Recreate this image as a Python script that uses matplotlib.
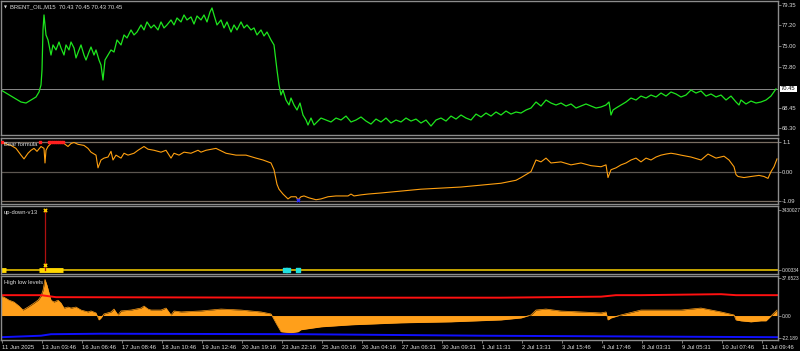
import matplotlib
matplotlib.use("Agg")
import matplotlib.pyplot as plt
from matplotlib.transforms import blended_transform_factory

plt.rcParams['font.family'] = ['Liberation Sans', 'DejaVu Sans']

W, H = 800, 351

# --- main price series (BRENT_OIL, M15) ---
price_x = [0, 5, 10, 15, 20, 25, 30, 35, 38, 40, 41, 42, 43, 44, 45, 47, 50, 52, 55, 58,
           60, 63, 65, 68, 70, 73, 75, 78, 80, 83, 85, 88, 90, 93, 95, 98, 100, 102, 104, 107,
           110, 113, 116, 120, 123, 126, 130, 133, 136, 140, 143, 146, 150, 153, 157, 160, 163, 166, 170, 173,
           176, 180, 183, 186, 190, 193, 196, 200, 203, 206, 209, 211, 213, 216, 220, 223, 226, 230, 233, 236,
           240, 243, 246, 250, 253, 256, 260, 263, 266, 270, 273, 276, 278, 280, 282, 285, 288, 290, 293, 296,
           299, 302, 305, 307, 310, 313, 316, 320, 325, 330, 335, 340, 345, 350, 355, 360, 365, 370, 375, 380,
           385, 390, 395, 400, 405, 410, 415, 420, 425, 430, 435, 440, 445, 450, 455, 460, 465, 470, 475, 480,
           485, 490, 495, 500, 505, 510, 515, 520, 525, 530, 535, 540, 545, 550, 555, 560, 565, 570, 575, 580,
           585, 590, 595, 600, 605, 608, 610, 612, 615, 620, 625, 630, 635, 640, 645, 650, 655, 660, 665, 670,
           675, 680, 685, 690, 695, 700, 705, 710, 715, 720, 725, 730, 735, 738, 740, 745, 750, 755, 760, 765,
           770, 775]
price = [70.33, 70.01, 69.69, 69.38, 69.06, 68.95, 69.27, 69.59, 70.12, 70.86, 72.45, 76.70, 78.29, 77.23, 76.17, 75.64, 74.04, 75.11, 74.58, 75.42,
         74.79, 74.04, 75.11, 74.58, 75.42, 74.79, 73.73, 74.58, 75.11, 74.04, 73.51, 74.36, 74.89, 74.04, 74.58, 73.51, 72.98, 71.39, 73.51, 74.04,
         74.58, 74.36, 75.64, 75.11, 76.17, 75.85, 76.70, 76.17, 76.48, 77.23, 76.70, 77.55, 76.91, 77.23, 76.70, 77.55, 76.91, 77.23, 77.76, 77.23,
         77.97, 77.55, 78.29, 77.76, 78.08, 77.33, 78.18, 77.76, 78.29, 77.55, 78.61, 79.03, 78.29, 77.23, 77.76, 76.91, 77.55, 76.48, 77.23, 76.70,
         77.55, 76.91, 77.23, 76.70, 76.91, 76.17, 76.70, 76.06, 76.48, 75.64, 75.11, 72.45, 70.86, 69.80, 70.33, 69.27, 68.74, 69.48, 68.74, 68.21,
         68.95, 67.68, 67.15, 66.62, 67.36, 66.62, 66.94, 67.36, 67.15, 66.94, 67.36, 67.15, 67.57, 66.94, 67.15, 67.47, 67.04, 66.72, 67.25, 66.94,
         67.36, 66.83, 67.15, 66.94, 67.36, 67.04, 67.25, 66.83, 67.15, 66.51, 67.15, 67.36, 67.04, 67.57, 67.25, 67.68, 67.36, 67.15, 67.78, 67.47,
         67.89, 67.57, 68.00, 67.68, 68.10, 67.78, 68.00, 67.89, 68.21, 68.42, 69.06, 68.63, 69.27, 68.95, 68.74, 68.95, 68.63, 68.85, 68.42, 68.63,
         68.85, 68.63, 68.42, 68.53, 68.74, 69.06, 67.68, 68.21, 68.42, 68.74, 69.06, 69.48, 69.27, 69.69, 69.48, 69.80, 69.59, 70.01, 69.69, 70.12,
         69.91, 69.59, 69.80, 70.33, 70.01, 70.23, 69.69, 69.91, 69.59, 69.80, 69.27, 69.69, 69.06, 68.74, 69.27, 68.85, 69.16, 68.95, 69.06, 69.27,
         69.69, 70.45]
price_ticks = [79.35, 77.20, 75.00, 72.80, 68.45, 66.30]
last_price = 70.45
title = "BRENT_OIL,M15  70.43 70.45 70.43 70.45"

# --- "Bear formula" oscillator ---
bear_x = [0, 3, 10, 15, 20, 23, 27, 30, 33, 36, 40, 43, 44, 45, 47, 50, 55, 60, 63, 67,
          70, 73, 77, 83, 87, 90, 95, 97, 100, 103, 107, 110, 112, 115, 120, 123, 127, 133, 137, 143,
          147, 153, 160, 165, 170, 173, 178, 183, 190, 197, 200, 205, 215, 225, 235, 245, 255, 262, 270, 273,
          276, 278, 282, 287, 290, 295, 297, 300, 303, 308, 315, 320, 327, 335, 340, 347, 350, 353, 360, 367,
          380, 400, 420, 440, 460, 480, 500, 515, 520, 525, 530, 535, 540, 545, 550, 560, 570, 580, 590, 600,
          605, 607, 610, 615, 620, 625, 630, 635, 640, 645, 650, 655, 660, 665, 670, 675, 680, 690, 700, 707,
          715, 723, 728, 733, 735, 737, 743, 750, 758, 763, 767, 770, 773, 776]
bear = [1.08, 1.04, 0.97, 0.86, 0.61, 0.47, 0.68, 0.79, 0.86, 0.75, 0.93, 0.86, 0.32, 0.79, 0.93, 1.04, 1.08, 1.08, 1.04, 0.93,
        1.04, 1.08, 1.01, 0.97, 0.86, 0.72, 0.61, 0.14, 0.43, 0.50, 0.54, 0.75, 0.43, 0.61, 0.50, 0.68, 0.61, 0.68, 0.79, 0.93,
        0.83, 0.79, 0.72, 0.79, 0.50, 0.68, 0.61, 0.72, 0.68, 0.79, 0.72, 0.79, 0.86, 0.68, 0.61, 0.61, 0.50, 0.43, 0.32, 0.07,
        -0.47, -0.65, -0.83, -1.01, -0.93, -0.93, -1.04, -0.93, -0.90, -0.97, -1.04, -1.01, -0.93, -0.90, -0.90, -0.90, -0.83, -0.90, -0.86, -0.83,
        -0.79, -0.72, -0.65, -0.61, -0.57, -0.50, -0.43, -0.32, -0.22, -0.11, 0.00, 0.43, 0.36, 0.50, 0.32, 0.36, 0.25, 0.32, 0.22, 0.18,
        0.25, -0.22, 0.07, 0.14, 0.25, 0.32, 0.43, 0.50, 0.36, 0.50, 0.43, 0.54, 0.61, 0.65, 0.68, 0.65, 0.61, 0.54, 0.43, 0.65,
        0.50, 0.57, 0.43, 0.18, -0.11, -0.18, -0.22, -0.18, -0.14, -0.18, -0.25, 0.00, 0.18, 0.47]
bear_red_x = [1, 39, 48, 50, 52, 54, 56, 58, 60, 62]
bear_red_val = 1.08
bear_blue_x, bear_blue_val = 297, -1.04
bear_levels = [1.1, 0.0, -1.09]
bear_labels = ["1.1", "0.00", "-1.09"]

# --- "up-down-v13" ---
ud_max, ud_min = 3430027, 0.00334
ud_spike_x = 44
ud_mark_vals = [3430027, 280000]
ud_thick = [(0, 5), (38, 62)]
ud_cyan_x = [284, 287, 297]

# --- "High low levels" ---
hl_x = [0, 3, 8, 13, 18, 22, 27, 33, 37, 40, 42, 44, 46, 50, 53, 57, 60, 63, 67, 70,
        75, 80, 87, 90, 95, 98, 100, 103, 110, 113, 117, 120, 130, 135, 140, 143, 147, 150, 160, 165,
        170, 173, 180, 200, 220, 240, 260, 270, 276, 280, 290, 297, 300, 320, 350, 400, 450, 500, 520, 530,
        535, 545, 560, 580, 600, 605, 607, 610, 620, 640, 660, 680, 700, 720, 733, 735, 740, 750, 760, 765,
        768, 772, 776]
hl = [19.4, 18.4, 15.4, 13.5, 9.5, 5.5, 8.5, 12.5, 15.4, 19.4, 25.3, 36.2, 30.3, 15.4, 13.5, 15.4, 12.5, 7.5, 8.5, 7.5,
      8.5, 5.5, 3.6, 4.6, 2.6, -4.4, -2.4, 1.6, 3.6, 6.5, 0.6, 4.6, 5.5, 6.5, 7.5, 9.5, 6.5, 5.5, 5.5, 7.5,
      0.6, 4.6, 3.6, 4.6, 6.5, 5.5, 3.6, 1.6, -9.3, -16.2, -17.2, -16.2, -14.2, -11.3, -9.3, -7.3, -6.3, -4.4, -2.4, 0.6,
      5.5, 6.5, 4.5, 3.6, 2.6, 3.6, -4.4, -2.4, 0.6, 5.5, 5.5, 5.5, 7.5, 3.6, 0.6, -4.4, -5.3, -6.3, -5.3, -5.3,
      -2.4, 1.6, 5.5]
hl_red_x = [0, 40, 55, 300, 500, 600, 615, 640, 720, 735, 777]
hl_red = [20.4, 20.4, 18.4, 17.9, 17.9, 18.9, 20.4, 20.4, 21.4, 20.4, 20.4]
hl_blue_x = [0, 40, 50, 100, 300, 480, 680, 777]
hl_blue = [-21.7, -20.2, -18.7, -18.2, -18.7, -20.2, -21.2, -21.7]
hl_ticks = [37.6523, 0.0, -22.1894]
hl_labels = ["37.6523", "0.00", "-22.189"]

# --- time axis ---
time_labels = ["11 Jun 2025", "13 Jun 03:46", "16 Jun 06:46", "17 Jun 08:46", "18 Jun 10:46",
               "19 Jun 12:46", "20 Jun 19:16", "23 Jun 22:16", "25 Jun 00:16", "26 Jun 04:16",
               "27 Jun 06:31", "30 Jun 09:31", "1 Jul 11:31", "2 Jul 13:31", "3 Jul 15:46",
               "4 Jul 17:46", "8 Jul 03:31", "9 Jul 05:31", "10 Jul 07:46", "11 Jul 09:46"]
time_pos = [1, 41, 81, 121, 161, 201, 241, 281, 321, 361,
            401, 441, 481, 521, 561, 601, 641, 681, 721, 761]

FS = 4.2
FS_SMALL = 3.5
TXT = '#dcdcdc'
FRAME = '#8c8c8c'

fig = plt.figure(figsize=(W / 100, H / 100), dpi=100, facecolor='black')


def panel(top, bottom, ylim):
    ax = fig.add_axes([1 / W, 1 - bottom / H, 777 / W, (bottom - top) / H])
    ax.set_facecolor('black')
    ax.set_xlim(0, 777)
    ax.set_ylim(*ylim)
    for s in ax.spines.values():
        s.set_color(FRAME)
        s.set_linewidth(1.0)
    ax.yaxis.tick_right()
    ax.tick_params(axis='y', colors=FRAME, labelcolor=TXT, labelsize=FS, length=2, width=0.6, pad=1)
    ax.tick_params(axis='x', bottom=False, labelbottom=False)
    return ax


ax1 = panel(1, 135, (65.56, 79.77))
ax2 = panel(138, 204, (-1.198, 1.244))
ax3 = panel(206, 274, (-224920, 3654947))
ax4 = panel(276, 340, (-24.5, 39.6))

# main
ax1.axhline(last_price, color='#8a8a8a', lw=0.7)
ax1.plot(price_x, price, color='#1ee61e', lw=0.9)
ax1.set_yticks(price_ticks, [f"{v:.2f}" for v in price_ticks])
tr1 = blended_transform_factory(ax1.transAxes, ax1.transData)
ax1.text(1.004, last_price, f"{last_price:.2f}", transform=tr1, fontsize=FS, color='black',
         va='center', ha='left', bbox=dict(fc='white', ec='none', pad=0.6))
ax1.text(0.004, 0.955, "\u25bc", transform=ax1.transAxes, fontsize=2.8, color=TXT,
         va='center', ha='left', family='DejaVu Sans')
ax1.text(0.012, 0.955, title, transform=ax1.transAxes, fontsize=FS, color=TXT, va='center', ha='left')

# bear formula
ax2.axhline(bear_levels[0], color='#7a6e62', lw=0.9)
ax2.axhline(bear_levels[1], color='#5c5650', lw=0.9)
ax2.axhline(bear_levels[2], color='#7a6e62', lw=0.9)
ax2.plot(bear_x, bear, color='#ffa010', lw=0.8)
ax2.scatter(bear_red_x, [bear_red_val] * len(bear_red_x), marker='s', s=4, color='#ff2020', zorder=3)
ax2.scatter([bear_blue_x], [bear_blue_val], marker='x', s=6, color='#3030ff', lw=1, zorder=3)
ax2.set_yticks(bear_levels, bear_labels)
ax2.text(0.004, 0.9, "Bear formula", transform=ax2.transAxes, fontsize=FS, color=TXT, va='center', ha='left')

# up-down-v13
ax3.axhline(ud_min, color='#e6c000', lw=1.2)
for a, b in ud_thick:
    ax3.plot([a, b], [ud_min, ud_min], color='#ffd700', lw=3.5, solid_capstyle='butt')
ax3.plot([ud_spike_x, ud_spike_x], [ud_min, ud_max], color='#b01010', lw=0.9)
ax3.scatter([ud_spike_x] * len(ud_mark_vals), ud_mark_vals, marker='x', s=6, color='#ffc800', lw=1, zorder=3)
ax3.scatter(ud_cyan_x, [ud_min] * len(ud_cyan_x), marker='s', s=5, color='#20e0e0', zorder=3)
ax3.set_yticks([ud_max, ud_min], [str(ud_max), f"{ud_min:.5f}"])
ax3.tick_params(axis='y', labelsize=FS_SMALL)
ax3.text(0.004, 0.9, "up-down-v13", transform=ax3.transAxes, fontsize=FS, color=TXT, va='center', ha='left')

# high low levels
ax4.fill_between(hl_x, 0, hl, color='#ff9f1a', lw=0)
ax4.plot(hl_x, hl, color='#ff9f1a', lw=0.5)
ax4.plot(hl_red_x, hl_red, color='#ff1010', lw=1.4)
ax4.plot(hl_blue_x, hl_blue, color='#1010ff', lw=1.4)
ax4.set_yticks(hl_ticks, hl_labels)
ax4.tick_params(axis='y', labelsize=FS_SMALL)
ax4.text(0.004, 0.9, "High low levels", transform=ax4.transAxes, fontsize=FS, color=TXT, va='center', ha='left')

ax4.tick_params(axis='x', bottom=True, labelbottom=True, colors=FRAME, labelcolor=TXT,
                labelsize=FS, length=2, width=0.6, pad=1.5)
ax4.set_xticks(time_pos, time_labels)
for lab in ax4.get_xticklabels():
    lab.set_ha('left')

fig.savefig("out.png", dpi=100, facecolor='black')
